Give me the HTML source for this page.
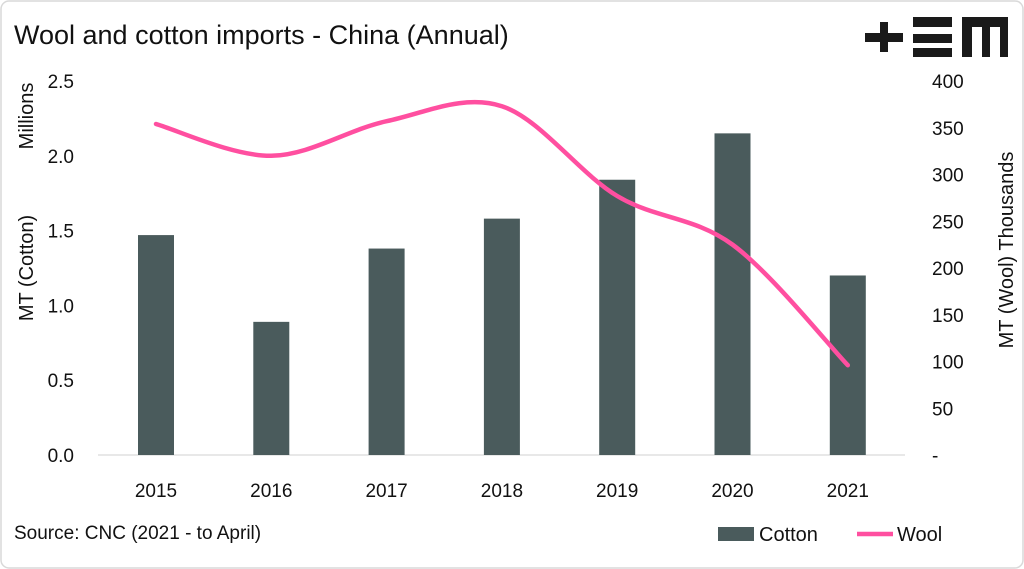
<!DOCTYPE html>
<html><head><meta charset="utf-8"><style>
body{margin:0;background:#fff;font-family:"Liberation Sans",sans-serif}
svg{display:block}
text{font-family:"Liberation Sans",sans-serif;fill:#111}
</style></head><body>
<svg id="c" width="1024" height="569" viewBox="0 0 1024 569">
<rect width="1024" height="569" fill="#fff"/>
<rect x="1" y="1" width="1022" height="567" rx="8" fill="none" stroke="#d9d9d9" stroke-width="1.5"/>
<text x="14" y="44" font-size="27">Wool and cotton imports - China (Annual)</text>
<g fill="#1a1a1a">
<rect x="880" y="22" width="8" height="30"/><rect x="865" y="33" width="38" height="9"/>
<rect x="913" y="17" width="39" height="10"/><rect x="913" y="34" width="39" height="9"/><rect x="913" y="48" width="39" height="9"/>
<path d="M962 17H1008V57H1000V27H990V57H982V27H972V57H962Z"/>
</g>
<g id="axes"></g>
<g id="bars"></g>
<path id="wool" fill="none" stroke="#ff4fa0" stroke-width="4.5" stroke-linecap="round"/>
<text x="14" y="539" font-size="19">Source: CNC (2021 - to April)</text>
<g>
<rect x="718" y="527" width="36" height="14" fill="#4a5b5c"/>
<text x="759" y="541" font-size="20">Cotton</text>
<line x1="857" y1="534" x2="893" y2="534" stroke="#ff4fa0" stroke-width="4.5"/>
<text x="897" y="541" font-size="20">Wool</text>
</g>
</svg>
<script>
const years=["2015","2016","2017","2018","2019","2020","2021"];
const cotton=[1.47,0.89,1.38,1.58,1.84,2.15,1.20];
const wool=[354,320,357,373,277,225,96];
const leftTicks=["0.0","0.5","1.0","1.5","2.0","2.5"];
const rightTicks=["-","50","100","150","200","250","300","350","400"];
const NS="http://www.w3.org/2000/svg";
const y0=455,y1=81;
const yL=v=>y0-(v/2.5)*(y0-y1);
const yR=v=>y0-(v/400)*(y0-y1);
const xC=i=>156+i*115.3;
function mk(tag,attrs,parent,txt){const e=document.createElementNS(NS,tag);for(const k in attrs)e.setAttribute(k,attrs[k]);if(txt!=null)e.textContent=txt;parent.appendChild(e);return e;}
const ax=document.getElementById('axes');
leftTicks.forEach((t,i)=>{const e=mk('text',{x:74,y:yL(i*0.5)+7,'font-size':19,'text-anchor':'end'},ax,t);

});
rightTicks.forEach((t,i)=>{const e=mk('text',{x:932,y:yR(i*50)+7,'font-size':19},ax,t);

});
const base=mk('line',{x1:98,x2:905,y1:y0,y2:y0,stroke:'#d0d0d0','stroke-width':1},ax);


years.forEach((t,i)=>{const e=mk('text',{x:xC(i),y:497,'font-size':19,'text-anchor':'middle'},ax,t);

});
let e=mk('text',{transform:'translate(33,268) rotate(-90)','font-size':20,'text-anchor':'middle'},ax,'MT (Cotton)');


e=mk('text',{transform:'translate(33,116) rotate(-90)','font-size':20,'text-anchor':'middle'},ax,'Millions');


e=mk('text',{transform:'translate(1013,250) rotate(-90)','font-size':20,'text-anchor':'middle'},ax,'MT (Wool) Thousands');


const bg=document.getElementById('bars');
cotton.forEach((v,i)=>{const r=mk('rect',{x:xC(i)-18,y:yL(v),width:36,height:y0-yL(v),fill:'#4a5b5c'},bg);

});
const pts=wool.map((v,i)=>[xC(i),yR(v)]);
let d='M'+pts[0][0]+' '+pts[0][1];
for(let i=0;i<pts.length-1;i++){const p0=pts[Math.max(0,i-1)],p1=pts[i],p2=pts[i+1],p3=pts[Math.min(pts.length-1,i+2)];
const c1=[p1[0]+(p2[0]-p0[0])/6,p1[1]+(p2[1]-p0[1])/6],c2=[p2[0]-(p3[0]-p1[0])/6,p2[1]-(p3[1]-p1[1])/6];
d+=` C${c1[0]} ${c1[1]} ${c2[0]} ${c2[1]} ${p2[0]} ${p2[1]}`;}
document.getElementById('wool').setAttribute('d',d);
</script>
</body></html>
